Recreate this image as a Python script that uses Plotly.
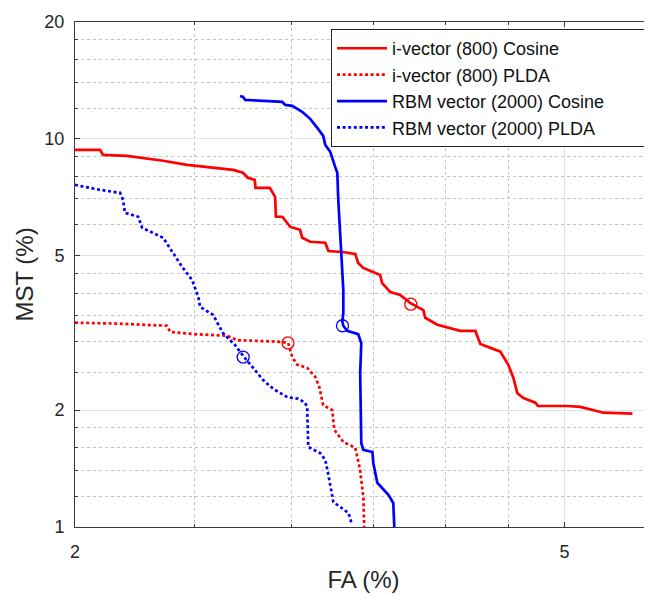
import plotly.graph_objects as go

# ---- data (FA %, MST %) ----
ivec_cos_fa = [2.000, 2.096, 2.108, 2.204, 2.359, 2.467, 2.689, 2.739, 2.764, 2.800, 2.804,
               2.880, 2.909, 2.913, 2.948, 2.993, 3.048, 3.060, 3.106, 3.195, 3.214, 3.299,
               3.380, 3.398, 3.431, 3.541, 3.554, 3.609, 3.676, 3.745, 3.839, 3.853, 3.941,
               4.114, 4.232, 4.271, 4.434, 4.500, 4.544, 4.578, 4.630, 4.735, 4.758, 5.027,
               5.152, 5.378, 5.678]
ivec_cos_mst = [9.37, 9.37, 9.09, 9.04, 8.78, 8.57, 8.32, 8.18, 7.94, 7.84, 7.48,
                7.48, 7.09, 6.30, 6.30, 5.93, 5.83, 5.56, 5.43, 5.40, 5.14, 5.11,
                5.05, 4.79, 4.65, 4.46, 4.25, 4.03, 3.96, 3.78, 3.62, 3.46, 3.32,
                3.20, 3.20, 2.96, 2.83, 2.62, 2.42, 2.21, 2.15, 2.09, 2.05, 2.05,
                2.04, 1.97, 1.96]

ivec_plda_fa = [2.000, 2.176, 2.376, 2.390, 2.495, 2.659, 2.709, 2.937, 2.981, 3.004, 3.031,
                3.089, 3.135, 3.159, 3.183, 3.237, 3.250, 3.305, 3.380, 3.411, 3.431, 3.437]
ivec_plda_mst = [3.36, 3.34, 3.30, 3.18, 3.14, 3.11, 3.03, 3.00, 2.98, 2.74, 2.62,
                 2.57, 2.44, 2.30, 2.06, 2.00, 1.78, 1.656, 1.60, 1.40, 1.195, 1.00]

rbm_cos_fa = [2.724, 2.739, 2.750, 2.867, 2.948, 2.965, 3.004, 3.060, 3.106, 3.148, 3.183,
              3.195, 3.225, 3.255, 3.268, 3.274, 3.292, 3.305, 3.305, 3.299, 3.305, 3.329,
              3.398, 3.418, 3.411, 3.418, 3.418, 3.431, 3.490, 3.496, 3.522, 3.596, 3.629,
              3.636]
rbm_cos_mst = [12.90, 12.83, 12.60, 12.53, 12.45, 12.23, 12.16, 11.74, 11.26, 10.67, 10.18,
               9.65, 9.26, 8.47, 8.18, 6.96, 5.08, 4.08, 3.56, 3.38, 3.30, 3.20,
               3.14, 2.98, 2.49, 1.78, 1.646, 1.58, 1.56, 1.46, 1.30, 1.21, 1.153,
               1.00]

rbm_plda_fa = [2.000, 2.096, 2.176, 2.188, 2.196, 2.251, 2.268, 2.359, 2.403, 2.444, 2.490,
               2.519, 2.528, 2.590, 2.638, 2.699, 2.745, 2.776, 2.845, 2.898, 2.976, 3.037,
               3.077, 3.089, 3.095, 3.165, 3.195, 3.214, 3.244, 3.337, 3.356]
rbm_plda_mst = [7.61, 7.39, 7.26, 6.96, 6.45, 6.30, 5.90, 5.56, 5.08, 4.68, 4.33,
                3.92, 3.69, 3.52, 3.16, 2.94, 2.74, 2.62, 2.39, 2.27, 2.16, 2.14,
                2.09, 2.03, 1.608, 1.55, 1.49, 1.36, 1.16, 1.087, 1.024]

# EER operating points (circles)
eer_labels = ["i-vector (800) Cosine", "i-vector (800) PLDA",
              "RBM vector (2000) Cosine", "RBM vector (2000) PLDA"]
eer_fa = [3.75, 2.98, 3.30, 2.74]
eer_mst = [3.75, 2.98, 3.30, 2.74]

x_tick_vals = [2, 5]
x_minor_vals = [2.5, 3, 3.5, 4, 4.5]
y_tick_vals = [1, 2, 5, 10, 20]
y_minor_vals = [1.2, 1.4, 1.6, 1.8, 2.5, 3, 3.5, 4, 4.5, 6, 7, 8, 9, 12, 14, 16, 18]

RED = "#ff0000"
BLUE = "#0000ff"
FONT = "Liberation Sans, Arial, sans-serif"

# invisible padding so the legend frame runs to the right edge, as in the reference
PAD = "\u00a0" * 7

series = [
    (eer_labels[0], ivec_cos_fa, ivec_cos_mst, RED, "solid"),
    (eer_labels[1], ivec_plda_fa, ivec_plda_mst, RED, "3px,2.6px"),
    (eer_labels[2] + PAD, rbm_cos_fa, rbm_cos_mst, BLUE, "solid"),
    (eer_labels[3], rbm_plda_fa, rbm_plda_mst, BLUE, "3px,2.6px"),
]
eer_colors = [RED, RED, BLUE, BLUE]

fig = go.Figure()
for i, (name, xs, ys, col, dash) in enumerate(series):
    fig.add_trace(go.Scatter(
        x=xs, y=ys, mode="lines", name=name,
        line=dict(color=col, width=2.7, dash=dash),
        legendgroup=f"g{i}",
    ))
for i in range(4):
    fig.add_trace(go.Scatter(
        x=[eer_fa[i]], y=[eer_mst[i]], mode="markers", showlegend=False,
        marker=dict(symbol="circle-open", size=12, color=eer_colors[i],
                    line=dict(width=1.3, color=eer_colors[i])),
        legendgroup=f"g{i}",
    ))

axis_common = dict(
    type="log", showline=True, linecolor="#3a3a3a", linewidth=1,
    showgrid=True, gridcolor="#e2e2e2", gridwidth=1,
    ticks="inside", ticklen=5, tickcolor="#3a3a3a", tickwidth=1,
    tickfont=dict(family=FONT, size=18, color="#262626"),
    zeroline=False, automargin=False,
)

# the page body adds an 8px offset, so the figure is 8px smaller on each side
fig.update_layout(
    width=644, height=589,
    margin=dict(l=67, r=0, t=14, b=70),
    plot_bgcolor="white", paper_bgcolor="white",
    font=dict(family=FONT, color="#262626"),
    xaxis=dict(
        **axis_common,
        range=[0.30103, 0.77012],
        tickvals=x_tick_vals, ticktext=[str(v) for v in x_tick_vals],
        mirror="ticks",
        ticklabelstandoff=8,
        title=dict(text="FA (%)", font=dict(family=FONT, size=24, color="#262626"), standoff=10),
        minor=dict(tickvals=x_minor_vals, ticks="inside", ticklen=3, tickcolor="#3a3a3a",
                   showgrid=True, gridcolor="#c4c4c4", griddash="dot", gridwidth=1),
    ),
    yaxis=dict(
        **axis_common,
        range=[0, 1.30103],
        tickvals=y_tick_vals, ticktext=[str(v) for v in y_tick_vals],
        mirror=False,
        ticklabelstandoff=6,
        title=dict(text="MST (%)", font=dict(family=FONT, size=24, color="#262626"), standoff=3),
        minor=dict(tickvals=y_minor_vals, ticks="inside", ticklen=3, tickcolor="#3a3a3a",
                   showgrid=True, gridcolor="#c4c4c4", griddash="dot", gridwidth=1),
    ),
    legend=dict(
        x=0.4437, y=0.986, xanchor="left", yanchor="top",
        bgcolor="white", bordercolor="#262626", borderwidth=1,
        font=dict(family=FONT, size=18, color="#111111"),
        tracegroupgap=0, itemwidth=50,
    ),
)

fig.write_html("out.html")
